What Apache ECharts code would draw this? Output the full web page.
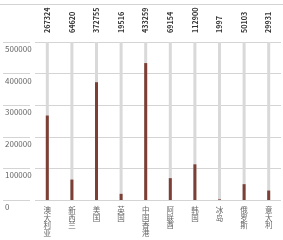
<!DOCTYPE html>
<html>
<head>
<meta charset="utf-8">
<script src="https://cdn.jsdelivr.net/npm/echarts@6/dist/echarts.min.js"></script>
<style>
  html, body { margin: 0; padding: 0; background: #fff; }
  #chart { width: 283px; height: 240px; }
</style>
</head>
<body>
<div id="chart"></div>
<script>
// 国家/地区
const countries = ['澳大利亚', '新西兰', '美国', '英国', '中国香港', '阿联酋', '韩国', '冰岛', '俄罗斯', '意大利']
// 数值
const values = [267324, 64620, 372755, 19516, 433259, 69154, 112900, 1997, 50103, 29931]
const yMax = 500000
const yStep = 100000

const chart = echarts.init(document.getElementById('chart'))

const gridLine = { lineStyle: { color: '#d4d4d4', width: 1 } }

const option = {
  animation: false,
  textStyle: { fontFamily: '"Noto Sans CJK SC", "Noto Sans", sans-serif' },
  graphic: [
    { type: 'line', shape: { x1: 0, y1: 4.5, x2: 283, y2: 4.5 }, style: { stroke: '#d4d4d4', lineWidth: 1 } }
  ],
  grid: [
    { left: 35, right: 2, top: 42, bottom: 40 },
    { left: 3, width: 27, top: 42, bottom: 40 }
  ],
  xAxis: [
    {
      type: 'category',
      gridIndex: 0,
      data: countries,
      axisLine: { show: false },
      axisTick: { show: false },
      axisLabel: {
        interval: 0,
        rotate: 0,
        hideOverlap: false,
        margin: 6,
        color: '#666',
        fontSize: 7.5,
        lineHeight: 7.8,
        verticalAlign: 'top',
        formatter: v => v.split('').join('\n')
      }
    },
    {
      type: 'category',
      gridIndex: 0,
      position: 'top',
      data: values.map(String),
      axisLine: { show: false },
      axisTick: { show: false },
      axisLabel: {
        interval: 0,
        rotate: -90,
        hideOverlap: false,
        margin: 9,
        color: '#333',
        fontSize: 7.2,
        fontWeight: 'bold'
      }
    },
    {
      type: 'category',
      gridIndex: 1,
      data: ['x'],
      show: false
    }
  ],
  yAxis: [
    {
      type: 'value',
      gridIndex: 0,
      min: 0,
      max: yMax,
      interval: yStep,
      axisLine: { show: false },
      axisTick: { show: false },
      splitLine: gridLine,
      axisLabel: {
        align: 'left',
        margin: 30,
        verticalAlign: 'top',
        padding: [3, 0, 0, 0],
        color: '#666',
        fontSize: 8,
        formatter: v => String(v)
      }
    },
    {
      type: 'value',
      gridIndex: 1,
      min: 0,
      max: yMax,
      interval: yStep,
      axisLine: { show: false },
      axisTick: { show: false },
      axisLabel: { show: false },
      splitLine: gridLine
    }
  ],
  series: [
    {
      type: 'bar',
      xAxisIndex: 0,
      yAxisIndex: 0,
      data: values,
      barWidth: 3,
      showBackground: true,
      backgroundStyle: { color: '#d9d9d9' },
      itemStyle: { color: '#7b3f36' }
    }
  ]
}

chart.setOption(option)
</script>
</body>
</html>
